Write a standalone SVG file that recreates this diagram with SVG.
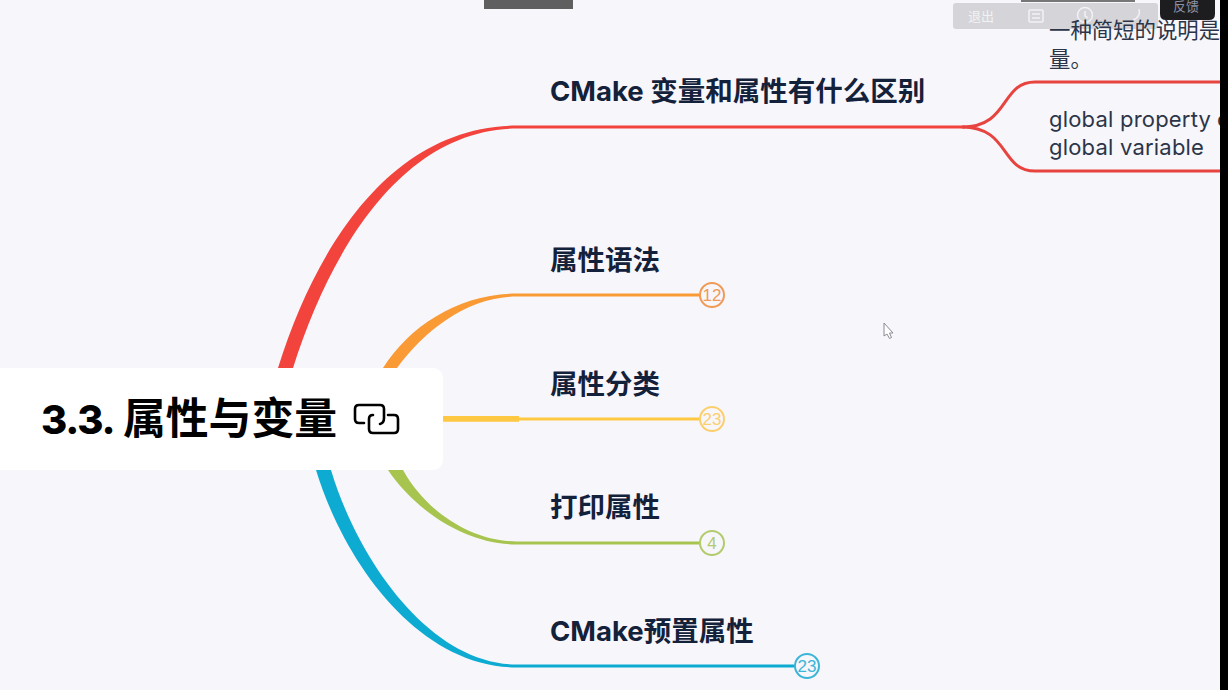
<svg xmlns="http://www.w3.org/2000/svg" width="1228" height="690" viewBox="0 0 1228 690">
<style>
.t{font-family:"Inter","Noto Sans CJK SC",sans-serif;font-weight:700;font-size:27.500px;fill:#14213a}
.d{font-family:"Inter","Noto Sans CJK SC",sans-serif;font-size:21.400px;fill:#2c3548}
.e{font-family:"Inter",sans-serif;font-size:22px;letter-spacing:.2px;fill:#2c3548}
.c{fill:#f7f6fb;stroke-width:2}
.n{font-family:"Liberation Sans",sans-serif;font-size:17px;text-anchor:middle}
.l{fill:none;stroke-width:3}
.b{font-family:"Noto Sans CJK SC",sans-serif;font-size:13px}
.i{fill:none;stroke:#f2f2f4;stroke-width:1.500}
</style>
<rect width="1228" height="690" fill="#f7f6fb"/>
<g id="connectors">
<path d="M278 368C318 240 395 126 517 125.500L965 125.500L965 128.500L517 128.500C405 129 332 245 293 368Z" fill="#f2433c"/>
<path class="l" stroke="#e8443f" d="M962 127C1010 127 1000 82 1035 82L1220 82M962 127C1010 127 1000 171 1035 171L1220 171"/>
<path d="M383 368C410 325 460 293.500 517 293.500L702 293.500L702 296.500L517 296.500C468 296.500 425 330 397 368Z" fill="#fa9a35"/>
<path d="M440 416L519 416L519 417.500L702 417.500L702 420.500L519 420.500L519 421.700L440 421.700Z" fill="#ffc842"/>
<path d="M388 470C415 510 465 544.500 517 544.500L702 544.500L702 541.500L517 541.500C470 541.500 425 510 403 470Z" fill="#a6c44e"/>
<path d="M316 470C345 565 420 667.500 517 667.500L796 667.500L796 664.500L517 664.500C430 664.500 358 560 331 470Z" fill="#0dabd2"/>
</g>
<g id="root">
<rect x="-20" y="368" width="463" height="102" rx="10" fill="#fff"/>
<text y="434" font-family="Inter,'Noto Sans CJK SC',sans-serif" font-weight="800" fill="#000"><tspan x="41" font-size="40" letter-spacing="-1.200">3.3.</tspan><tspan x="123" font-size="42.800" font-family="'Noto Sans CJK SC',sans-serif" font-weight="700">属性与变量</tspan></text>
<g fill="none" stroke="#000" stroke-width="2.600" stroke-linecap="round" stroke-linejoin="round">
<path d="M364 423H359Q355 423 355 419V409Q355 405 359 405H380Q384 405 384 409V418Q384 423 380 424"/>
<path d="M388 415H394Q398 415 398 419V429Q398 433 394 433H373Q369 433 369 429V419Q369 415 373 415"/>
</g>
</g>
<g id="node-syntax">
<text class="t" x="550" y="270">属性语法</text>
<circle class="c" cx="712" cy="295" r="12" stroke="#f09a56"/>
<text class="n" x="712" y="301" fill="#f09a56">12</text>
</g>
<g id="node-class">
<text class="t" x="550" y="394">属性分类</text>
<circle class="c" cx="712" cy="419" r="12" stroke="#fbcf6c"/>
<text class="n" x="712" y="425" fill="#fbcf6c">23</text>
</g>
<g id="node-print">
<text class="t" x="550" y="517">打印属性</text>
<circle class="c" cx="712" cy="543" r="12" stroke="#b2cb6b"/>
<text class="n" x="712" y="549" fill="#b2cb6b">4</text>
</g>
<g id="node-preset">
<text class="t" x="550" y="641">CMake预置属性</text>
<circle class="c" cx="807" cy="666" r="12" stroke="#3bb5d8"/>
<text class="n" x="807" y="672" fill="#3bb5d8">23</text>
</g>
<path d="M884 323L884 336L887 334L889.500 338.500L891.500 337.500L889.500 333L893 333Z" fill="#fff" stroke="#8a8a92" stroke-width="1"/>
<rect x="484" y="0" width="89" height="9" fill="#5f5f5f"/>
<rect x="1021" y="0" width="114" height="2" fill="#777"/>
<g id="toolbar">
<rect x="953" y="3" width="205" height="26" rx="3" fill="#d5d5d9"/>
<text class="b" x="968" y="21" fill="#f2f2f4">退出</text>
<rect class="i" x="1029" y="10" width="14" height="12" rx="1"/>
<path class="i" d="M1032 14H1040M1032 18H1040"/>
<circle class="i" cx="1085" cy="15" r="7.500"/>
<path class="i" d="M1085 11V16L1088 18"/>
<path class="i" d="M1139 9Q1141 17 1133 20"/>
<path d="M1160 0H1215V14Q1215 20 1209 20H1166Q1160 20 1160 14Z" fill="#1d1d20"/>
<text class="b" x="1173" y="11" fill="#8d93a6">反馈</text>
</g>
<g id="node-diff">
<text class="t" x="550" y="100.500">CMake 变量和属性有什么区别</text>
<text class="d" x="1049" y="38">一种简短的说明是</text>
<text class="d" x="1049" y="67">量。</text>
<text class="e" x="1049" y="127">global property<tspan x="1217">o</tspan></text>
<text class="e" x="1049" y="155">global variable</text>
</g>
<rect x="1220" y="0" width="8" height="690" fill="#000"/>
</svg>
